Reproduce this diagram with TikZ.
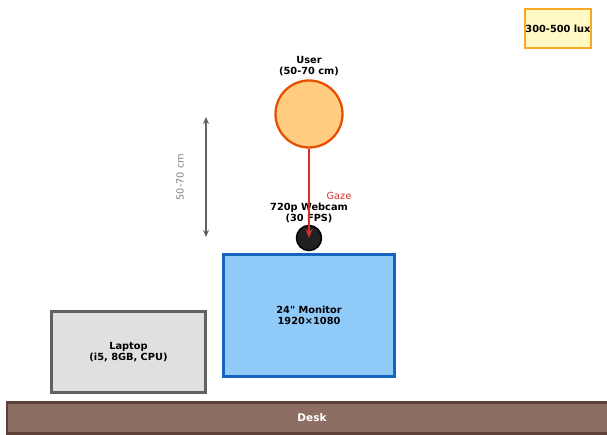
\documentclass[tikz,border=0pt]{standalone}
\usepackage{fontspec}
\setmainfont{DejaVu Sans}[Ligatures=TeXOff]
\usetikzlibrary{arrows.meta,positioning}
\definecolor{deskbrown}{HTML}{8D6E63}
\definecolor{deskedge}{HTML}{5D4037}
\definecolor{laptopbg}{HTML}{E0E0E0}
\definecolor{laptopedge}{HTML}{616161}
\definecolor{monbg}{HTML}{90CAF9}
\definecolor{monedge}{HTML}{1565C0}
\definecolor{userbg}{HTML}{FFCC80}
\definecolor{useredge}{HTML}{E65100}
\definecolor{camfill}{HTML}{212121}
\definecolor{gazered}{HTML}{D32F2F}
\definecolor{luxbg}{HTML}{FFF9C4}
\definecolor{luxedge}{HTML}{F9A825}
\definecolor{dimgray}{HTML}{616161}

\begin{document}
\begin{tikzpicture}[x=1pt,y=-1pt,
        box/.style={draw,line width=2.3pt,inner sep=0pt,align=center,
                    font=\fontsize{9.8}{11}\selectfont\bfseries},
        lbl/.style={align=center,inner sep=0pt,
                    font=\fontsize{9.8}{11}\selectfont\bfseries},
        note/.style={inner sep=0pt,font=\fontsize{9.8}{11}\selectfont},
        a/.style={-{Stealth[length=9pt,width=7pt]},line width=2pt,gazered},
        dim/.style={{Stealth[length=7pt,width=6pt]}-{Stealth[length=7pt,width=6pt]},
                    line width=1.8pt,dimgray}
      ]
        \useasboundingbox (0,0) rectangle (607,435);

        % furniture
        \node[box,draw=deskedge,fill=deskbrown,text=white,
              font=\fontsize{10.5}{12}\selectfont\bfseries,
              minimum width=610pt,minimum height=31pt] (desk) at (312,418) {Desk};
        \node[box,draw=laptopedge,fill=laptopbg,
              minimum width=154pt,minimum height=81pt] (laptop) at (128.5,352)
              {Laptop\\(i5, 8GB, CPU)};
        \node[box,draw=monedge,fill=monbg,
              minimum width=171pt,minimum height=122pt] (mon) at (309,315.5)
              {24" Monitor\\1920×1080};

        % camera and user
        \node[circle,draw=black,line width=1.5pt,fill=camfill,
              minimum size=25pt,inner sep=0pt] (cam) at (309,238) {};
        \node[lbl,above=2pt of cam] (camlbl) {720p Webcam\\(30 FPS)};
        \node[circle,draw=useredge,line width=2.3pt,fill=userbg,
              minimum size=67pt,inner sep=0pt] (user) at (309,114) {};
        \node[lbl,above=3.5pt of user] (userlbl) {User\\(50-70 cm)};

        \draw[a] (user.south) -- (cam.center);
        \node[note,text=gazered] (gaze) at (339,196) {Gaze};

        % distance
        \coordinate (dtop) at (206,117);
        \coordinate (dbot) at (206,237);
        \draw[dim] (dtop) -- (dbot);
        \node[note,text=gray,rotate=90] (dlbl) at (180,177) {50-70 cm};

        % lighting
        \node[box,draw=luxedge,fill=luxbg,
              minimum width=66pt,minimum height=39pt] (lux) at (558,28.5) {300-500 lux};
      \end{tikzpicture}
\end{document}
